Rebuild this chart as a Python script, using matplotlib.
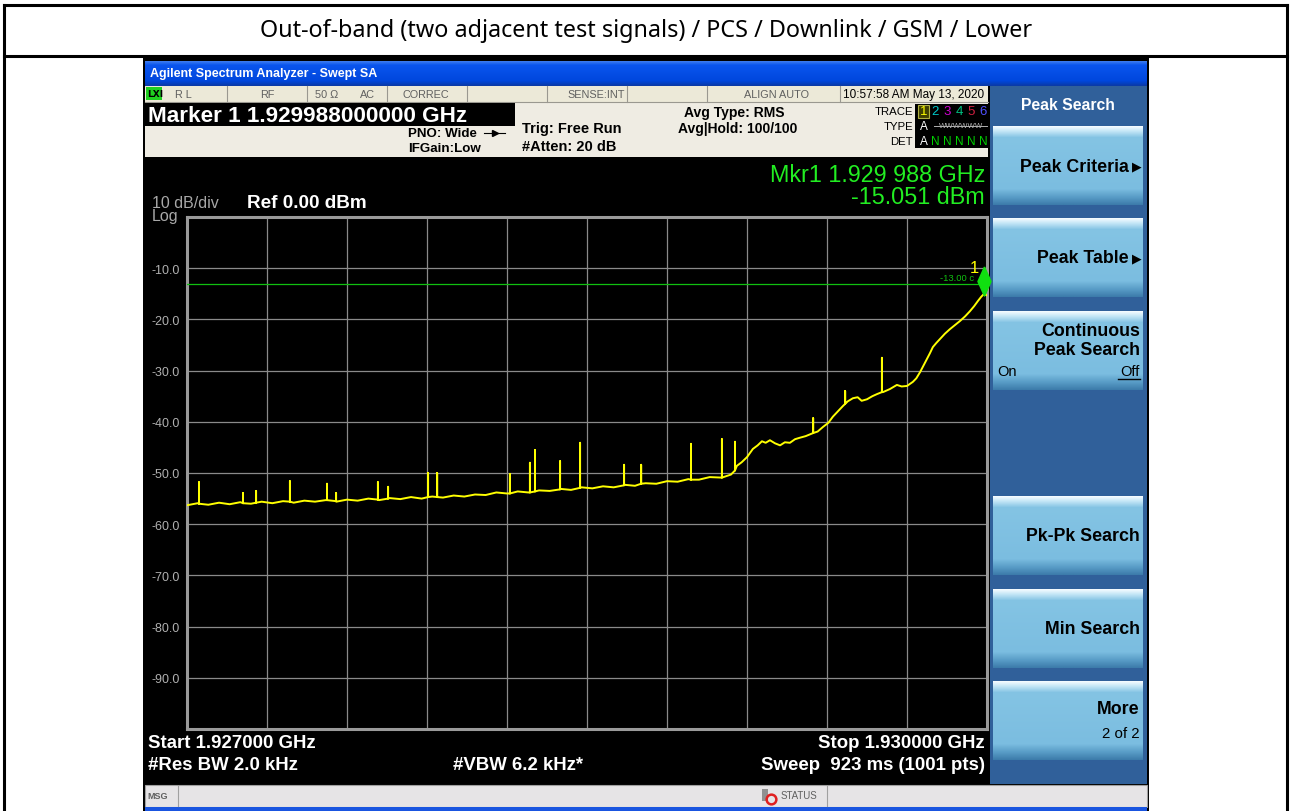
import matplotlib
matplotlib.use("Agg")
import matplotlib.pyplot as plt
from matplotlib.patches import Rectangle
import matplotlib.transforms as mtransforms
import numpy as np

# sweep settings
start_ghz = 1.927
stop_ghz = 1.930
ref_level = 0.0
y_labels = ["-10.0", "-20.0", "-30.0", "-40.0", "-50.0", "-60.0", "-70.0", "-80.0", "-90.0"]
limit_line = -13.0
mkr_khz = 2988
mkr_level = -15.051

# trace: offset from start in kHz, level in dBm
trace_khz = [0, 40, 80, 120, 160, 200, 240, 280, 320, 360, 400, 440, 480, 520, 560,
             600, 640, 680, 720, 760, 800, 840, 880, 920, 960, 1000, 1040, 1080, 1120,
             1160, 1200, 1240, 1280, 1320, 1360, 1400, 1440, 1480, 1520, 1560, 1600,
             1640, 1680, 1720, 1760, 1800, 1840, 1880, 1920, 1960, 2000, 2040, 2062,
             2080, 2100, 2122, 2140, 2156, 2170, 2186, 2205, 2224, 2242, 2261, 2280,
             2299, 2320, 2347, 2365, 2385, 2405, 2422, 2440, 2460, 2478, 2497, 2515,
             2530, 2550, 2570, 2587, 2610, 2636, 2662, 2680, 2700, 2722, 2735, 2749,
             2762, 2775, 2786, 2797, 2810, 2824, 2842, 2861, 2880, 2899, 2918, 2936,
             2952, 2966, 2978, 2988, 3000]
trace_dbm = [-56.3, -55.9, -56.2, -55.8, -56.1, -55.7, -56.0, -55.6, -55.9, -55.5, -55.8,
             -55.4, -55.6, -55.3, -55.6, -55.2, -55.4, -55.0, -55.3, -54.9, -55.1, -54.7,
             -55.0, -54.6, -54.8, -54.4, -54.6, -54.2, -54.3, -53.8, -54.0, -53.6, -53.8,
             -53.4, -53.5, -53.1, -53.3, -52.8, -53.0, -52.6, -52.8, -52.3, -52.5, -52.0,
             -52.1, -51.6, -51.7, -51.2, -51.3, -50.8, -50.9, -50.3, -48.6, -47.9, -46.9,
             -45.3, -44.6, -43.8, -44.1, -43.6, -44.2, -44.6, -44.0, -44.1, -43.4, -43.1,
             -42.8, -42.2, -41.9, -41.0, -40.2, -39.0, -38.0, -36.9, -36.0, -35.4, -35.2,
             -35.9, -35.6, -35.0, -34.6, -34.2, -33.6, -32.8, -33.1, -33.0, -32.2, -31.5,
             -30.3, -29.0, -27.7, -26.6, -25.4, -24.6, -23.8, -22.8, -21.9, -21.1, -20.3,
             -19.4, -18.4, -17.4, -16.4, -15.6, -15.05, -15.3]

# narrow spurs: position, floor under it, peak
spur_khz = [45, 210, 259, 386, 525, 559, 716, 754, 904, 938, 1211, 1286, 1305, 1399,
            1474, 1639, 1703, 1890, 2006, 2055, 2348, 2468, 2606]
spur_base = [-56.0, -55.9, -55.8, -55.6, -55.3, -55.5, -55.2, -55.0, -54.7, -54.7, -54.0,
             -53.8, -53.6, -53.2, -52.9, -52.4, -52.1, -51.3, -50.9, -49.5, -42.2, -36.5, -34.2]
spur_top = [-51.8, -53.9, -53.5, -51.6, -52.1, -53.9, -51.8, -52.7, -50.0, -50.0, -50.2,
            -48.0, -45.5, -47.7, -44.1, -48.4, -48.4, -44.3, -43.4, -43.9, -39.3, -34.0, -27.5]

title = "Out-of-band (two adjacent test signals) / PCS / Downlink / GSM / Lower"
softkeys = [("Peak Criteria", True), ("Peak Table", True), None, None,
            ("Pk-Pk Search", False), ("Min Search", False), None]

W, H = 1290, 812
fig = plt.figure(figsize=(W / 100, H / 100), dpi=100)
fig.patch.set_facecolor("white")

bg = fig.add_axes([0, 0, 1, 1])
bg.set_axis_off()
SANS = ["Liberation Sans", "DejaVu Sans"]


def box(x0, y0, x1, y1, fc, ec="none", lw=0, z=1):
    bg.add_patch(Rectangle((x0, y0), x1 - x0, y1 - y0, facecolor=fc,
                           edgecolor=ec, linewidth=lw, zorder=z))


def grad(x0, y0, x1, y1, stops, cols, z=2):
    n = max(int(y1 - y0), 2)
    pos = np.linspace(0, 1, n)
    rgb = np.array([matplotlib.colors.to_rgb(c) for c in cols])
    arr = np.stack([np.interp(pos, stops, rgb[:, i]) for i in range(3)], axis=-1)
    arr = np.repeat(arr[:, None, :], 4, axis=1)
    bg.imshow(arr, extent=(x0, x1, y1, y0), aspect="auto", zorder=z,
              interpolation="bilinear")


def txt(x, y, s, size=9, color="black", weight="normal", ha="left", va="center",
        fam=SANS, z=5):
    return bg.text(x, y, s, fontsize=size, color=color, fontweight=weight, ha=ha,
                   va=va, family=fam, zorder=z)


# page frame and title row
for xs, ys in [((4, 4), (6, 812)), ((1287, 1287), (6, 812)), ((4, 1287), (6, 6)),
               ((4, 1287), (57, 57))]:
    bg.plot(xs, ys, color="black", lw=2.2, zorder=3, solid_capstyle="projecting")
txt(646, 31, title, size=16.8, fam=["Noto Sans", "DejaVu Sans"], ha="center")

# instrument screen
box(143, 58, 1149, 812, "black", z=1)
grad(145, 62, 1147, 87, [0, 0.15, 0.8, 1], ["#3a7af0", "#0a55ee", "#0047dd", "#0a3aa8"])
txt(150, 74, "Agilent Spectrum Analyzer - Swept SA", size=9, color="white", weight="bold")

# status row
box(145, 87, 988, 103, "#ece9d8", z=2)
for xc in [227, 307, 387, 467, 547, 627, 707, 840]:
    bg.plot([xc, xc], [87, 103], color="#9a9890", lw=0.8, zorder=3)
bg.plot([145, 988], [103, 103], color="#9a9890", lw=0.8, zorder=3)
box(146, 88, 162, 101, "#20d020", z=3)
txt(147.5, 94.5, "LXI", size=6.5, weight="bold", fam=["DejaVu Sans"], color="black")
for xc, s in [(183, "R L"), (267, "RF"), (327, "50 Ω"), (367, "AC"), (426, "CORREC"),
              (777, "ALIGN AUTO")]:
    txt(xc, 95, s, size=7.8, color="#606060", ha="center")
txt(625, 95, "SENSE:INT", size=7.8, color="#606060", ha="right")
txt(914, 95, "10:57:58 AM May 13, 2020", size=8.5, color="black", ha="center")

# header block
box(145, 103, 988, 158, "#efece3", z=2)
box(145, 104, 515, 127, "black", z=3)
txt(148, 116, "Marker 1 1.929988000000 GHz", size=16.2, color="white", weight="bold")
txt(477, 134, "PNO: Wide", size=9.6, weight="bold", ha="right")
bg.plot([484, 505], [134, 134], color="black", lw=0.8, zorder=4)
bg.plot([494.5], [134], marker=">", color="black", ms=4, zorder=4)
txt(408, 149, "IFGain:Low", size=9.6, weight="bold")
txt(522, 129, "Trig: Free Run", size=10.5, weight="bold")
txt(522, 147, "#Atten: 20 dB", size=10.5, weight="bold")
txt(734, 113, "Avg Type: RMS", size=10, weight="bold", ha="center")
txt(678, 129, "Avg|Hold: 100/100", size=10, weight="bold")
for yy, s in [(112, "TRACE"), (127, "TYPE"), (142, "DET")]:
    txt(913, yy, s, size=8.2, ha="right")
box(915, 105, 988, 149, "black", z=3)
box(918, 105.5, 929, 119, "#404000", ec="#b0b040", lw=0.8, z=4)
tr_cols = ["#ffff00", "#00c8c8", "#d000d0", "#00c080", "#d02040", "#5050ff"]
for i, c in enumerate(tr_cols):
    txt(923.5 + i * 12, 112, str(i + 1), size=9.5, color=c, ha="center")
txt(923.5, 127, "A", size=8.5, color="white", ha="center")
txt(961, 127, "WWWWWW", size=5.6, color="#b0b0b0", ha="center")
bg.plot([934, 987], [127, 127], color="#b0b0b0", lw=0.7, zorder=6)
txt(923.5, 142, "A", size=8.5, color="white", ha="center")
for i in range(5):
    txt(935.5 + i * 12, 142, "N", size=8.5, color="#00d000", ha="center")

# soft key panel
box(990, 87, 1147, 785, "#30609a", z=2)
txt(1068, 106, "Peak Search", size=11.3, color="white", weight="bold", ha="center")
key_top = [127, 219, 312, 405, 497, 590, 682]
for i, k in enumerate(key_top):
    if i == 3:
        continue
    grad(993, k, 1143, k + 79, [0, 0.06, 0.14, 0.8, 0.9, 1],
         ["#f4fbff", "#c4e6f6", "#84c4e4", "#7bbde0", "#5a9ec8", "#3d7cab"], z=3)
for i, item in enumerate(softkeys):
    if item is None:
        continue
    s, arrow = item
    yc = key_top[i] + 40
    if arrow:
        txt(1129, yc, s, size=12.8, weight="bold", ha="right")
        txt(1142, yc, "▶", size=9, ha="right", fam=["DejaVu Sans"])
    else:
        txt(1140, yc, s, size=12.8, weight="bold", ha="right")
txt(1140, 332, "Continuous", size=12.8, weight="bold", ha="right")
txt(1140, 351, "Peak Search", size=12.8, weight="bold", ha="right")
txt(997, 372, "On", size=10.5)
txt(1140, 372, "Off", size=10.5, ha="right")
bg.plot([1118, 1140], [380, 380], color="black", lw=1.0, zorder=6)
txt(1140, 710, "More", size=12.8, weight="bold", ha="right")
txt(1140, 734, "2 of 2", size=10.8, ha="right")

# message bar
box(145, 786, 1147, 808, "#e6e4e6", ec="#a0a0a0", lw=0.8, z=2)
box(145, 808, 1147, 812, "#1a55e0", z=2)
bg.plot([178, 178], [787, 807], color="#a0a0a0", lw=0.8, zorder=3)
bg.plot([827, 827], [787, 807], color="#a0a0a0", lw=0.8, zorder=3)
txt(147, 797, "MSG", size=6.5, color="#606060", weight="bold")
box(762, 790, 768, 802, "#909090", z=3)
bg.plot([771], [800], marker="o", ms=7, mfc="none", mec="#e02020", mew=1.8, zorder=4)
txt(781, 796, "STATUS", size=7, color="#606060")

# screen annotations
txt(152, 204, "10 dB/div", size=11.5, color="#a8a8a8")
txt(152, 217, "Log", size=11.5, color="#a8a8a8")
txt(247, 203, "Ref %.2f dBm" % ref_level, size=13.6, color="white", weight="bold")
txt(985, 175, "Mkr1 1.929 988 GHz", size=16.8, color="#22ee22", ha="right")
txt(985, 197, "%.3f dBm" % mkr_level, size=16.8, color="#22ee22", ha="right")
txt(148, 744, "Start %.6f GHz" % start_ghz, size=13.4, color="white", weight="bold")
txt(148, 766, "#Res BW 2.0 kHz", size=13.4, color="white", weight="bold")
txt(453, 766, "#VBW 6.2 kHz*", size=13.4, color="white", weight="bold")
txt(985, 744, "Stop %.6f GHz" % stop_ghz, size=13.4, color="white", weight="bold", ha="right")
txt(985, 766, "Sweep  923 ms (1001 pts)", size=13.4, color="white", weight="bold", ha="right")

bg.set_xlim(0, W)
bg.set_ylim(H, 0)

# graticule
ax = fig.add_axes([187 / W, 1 - 730 / H, 800 / W, 512 / H])
ax.set_facecolor("black")
ax.set_xlim(start_ghz, stop_ghz)
ax.set_ylim(ref_level - 100, ref_level)
ax.set_xticks(np.linspace(start_ghz, stop_ghz, 11))
ax.set_xticklabels([])
ax.set_yticks(np.arange(ref_level - 100, ref_level + 1, 10))
ax.set_yticklabels([""] + y_labels[::-1] + [""], family=SANS)
ax.tick_params(length=0, pad=5, labelsize=9, labelcolor="#b0b0b0")
ax.grid(True, color="#8a8a8a", lw=0.9)
for sp in ax.spines.values():
    sp.set_color("#9a9a9a")
    sp.set_linewidth(2.2)

# merge floor points and spurs into one sweep
fx = list(trace_khz)
fy = list(trace_dbm)
for k, b, t in zip(spur_khz, spur_base, spur_top):
    fx += [k, k, k]
    fy += [b, t, b]
order = np.argsort(np.array(fx, dtype=float), kind="stable")
sx = start_ghz + np.array(fx, dtype=float)[order] / 1e6
sy = np.array(fy)[order]
ax.axhline(limit_line, color="#10c010", lw=0.9, zorder=3)
ax.plot(sx, sy, color="#ffff00", lw=1.4, zorder=4)
ax.text(stop_ghz - 0.00005, limit_line + 1.2, "-13.00 c", fontsize=6.8, color="#10c010",
        ha="right", va="center", family=SANS, zorder=5)

mx = start_ghz + mkr_khz / 1e6
diamond = [(0, 1), (0.45, 0), (0, -1), (-0.45, 0), (0, 1)]
off = mtransforms.offset_copy(ax.transData, fig=fig, x=0, y=13, units="dots")
ax.plot([mx], [mkr_level], marker=diamond, ms=21, color="#10e010", mec="#10e010",
        transform=off, clip_on=False, zorder=6)
ax.text(mx, mkr_level, "1", transform=mtransforms.offset_copy(
        ax.transData, fig=fig, x=-5, y=27, units="dots"), fontsize=12, color="#ffff00",
        ha="right", va="center", family=SANS, clip_on=False, zorder=6)

fig.savefig("out.png", dpi=100, facecolor="white")
